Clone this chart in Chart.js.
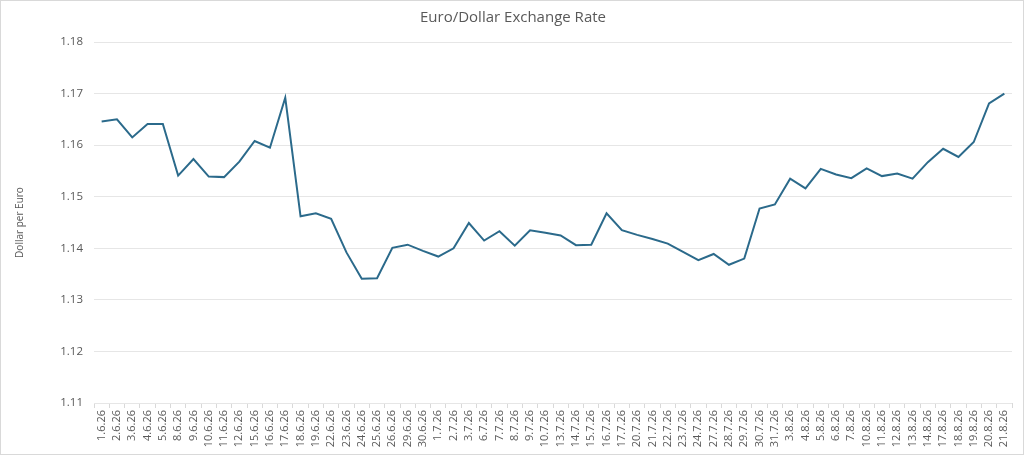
<!DOCTYPE html>
<html>
<head>
<meta charset="utf-8">
<script src="https://cdn.jsdelivr.net/npm/chart.js@4"></script>
<style>
    html, body { margin: 0; padding: 0; background: #fff; }
    #wrap { width: 1022px; height: 453px; border: 1px solid #d9d9d9; }
</style>
</head>
<body>
<div id="wrap"><canvas id="kursChart" width="1022" height="453"></canvas></div>
<script>
const tage = [
    '1.6.26', '2.6.26', '3.6.26', '4.6.26', '5.6.26', '8.6.26', '9.6.26', '10.6.26', '11.6.26', '12.6.26',
    '15.6.26', '16.6.26', '17.6.26', '18.6.26', '19.6.26', '22.6.26', '23.6.26', '24.6.26', '25.6.26', '26.6.26',
    '29.6.26', '30.6.26', '1.7.26', '2.7.26', '3.7.26', '6.7.26', '7.7.26', '8.7.26', '9.7.26', '10.7.26',
    '13.7.26', '14.7.26', '15.7.26', '16.7.26', '17.7.26', '20.7.26', '21.7.26', '22.7.26', '23.7.26', '24.7.26',
    '27.7.26', '28.7.26', '29.7.26', '30.7.26', '31.7.26', '3.8.26', '4.8.26', '5.8.26', '6.8.26', '7.8.26',
    '10.8.26', '11.8.26', '12.8.26', '13.8.26', '14.8.26', '17.8.26', '18.8.26', '19.8.26', '20.8.26', '21.8.26'
];

const kurs = [
    1.1646, 1.1650, 1.1615, 1.1641, 1.1641, 1.1541, 1.1573, 1.1539, 1.1538, 1.1568,
    1.1608, 1.1595, 1.1692, 1.1462, 1.1468, 1.1457, 1.1392, 1.1341, 1.1342, 1.1401,
    1.1407, 1.1395, 1.1384, 1.1400, 1.1449, 1.1415, 1.1433, 1.1405, 1.1435, 1.1430,
    1.1425, 1.1406, 1.1407, 1.1468, 1.1435, 1.1426, 1.1418, 1.1409, 1.1393, 1.1377,
    1.1389, 1.1368, 1.1380, 1.1477, 1.1485, 1.1535, 1.1516, 1.1554, 1.1543, 1.1536,
    1.1555, 1.1540, 1.1545, 1.1535, 1.1567, 1.1593, 1.1577, 1.1606, 1.1681, 1.1700
];

const yMin = 1.11;
const yMax = 1.18;
const yStep = 0.01;

const grau = '#595959';
const schrift = "'Open Sans', 'Liberation Sans', sans-serif";

const ctx = document.getElementById('kursChart').getContext('2d');
const kursChart = new Chart(ctx, {
    type: 'line',
    data: {
        labels: tage,
        datasets: [{
            label: 'Dollar per Euro',
            data: kurs,
            borderColor: '#2b6a8b',
            borderWidth: 2,
            pointRadius: 0,
            tension: 0,
            fill: false
        }]
    },
    options: {
        responsive: false,
        animation: false,
        layout: {
            padding: { left: 13, right: 11, top: 0, bottom: 2 }
        },
        plugins: {
            legend: { display: false },
            tooltip: { enabled: false },
            title: {
                display: true,
                text: 'Euro/Dollar Exchange Rate',
                color: grau,
                font: { family: schrift, size: 15, weight: 'normal' },
                padding: { top: 8, bottom: 15 }
            }
        },
        scales: {
            x: {
                offset: true,
                grid: {
                    offset: true,
                    drawOnChartArea: false,
                    drawTicks: true,
                    tickLength: 5,
                    color: '#d9d9d9'
                },
                border: { display: false },
                ticks: {
                    autoSkip: false,
                    minRotation: 90,
                    maxRotation: 90,
                    padding: 2,
                    color: grau,
                    font: { family: schrift, size: 11 }
                },
                afterFit: function(scale) { scale.height = 49; }
            },
            y: {
                min: yMin,
                max: yMax,
                grid: {
                    color: '#e6e6e6',
                    drawTicks: false
                },
                border: { display: false },
                ticks: {
                    stepSize: yStep,
                    padding: 11,
                    color: grau,
                    font: { family: schrift, size: 11.5 },
                    callback: function(v) { return v.toFixed(2); }
                },
                title: {
                    display: true,
                    text: 'Dollar per Euro',
                    color: grau,
                    font: { family: schrift, size: 10 },
                    padding: { top: 0, bottom: 0 }
                },
                afterFit: function(scale) { scale.width = 80; }
            }
        }
    }
});
</script>
</body>
</html>
